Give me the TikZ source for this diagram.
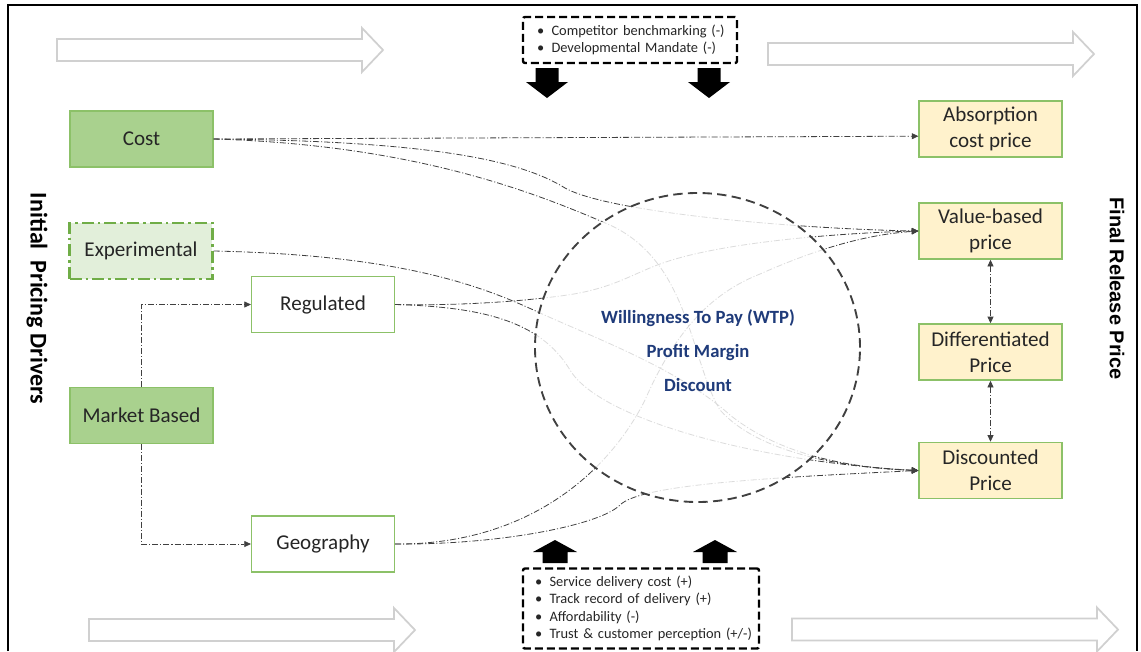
\documentclass[tikz,border=0pt]{standalone}
\usepackage{fontspec}
\setmainfont{Carlito}
\newfontfamily\arialfont{Liberation Sans}
\usetikzlibrary{arrows.meta,calc,shapes.geometric}

\definecolor{boxgreen}{HTML}{A9D18E}
\definecolor{boxedge}{HTML}{8CC168}
\definecolor{expfill}{HTML}{E2EFDA}
\definecolor{expedge}{HTML}{70AD47}
\definecolor{pricefill}{HTML}{FFF2CC}
\definecolor{linkgray}{HTML}{404040}
\definecolor{hollowgray}{HTML}{D0D0D0}
\definecolor{wtpblue}{HTML}{1F3B7A}
\definecolor{txt}{HTML}{262626}

\newcommand{\bulletline}[1]{\mbox{\textbullet\hspace{5.5pt}#1}}

\tikzset{
  pxbox/.style={minimum width=107pt, minimum height=42pt, inner sep=0pt,
    line width=1.1pt, text=txt, align=center,
    font=\fontsize{15.8}{19.5}\selectfont},
  solidbox/.style={pxbox, draw=boxedge, fill=boxgreen},
  plainbox/.style={pxbox, draw=boxedge, fill=white},
  pricebox/.style={pxbox, draw=boxedge, fill=pricefill},
  trialbox/.style={pxbox, draw=expedge, fill=expfill, line width=2pt,
    dash pattern=on 9pt off 3pt on 2pt off 3pt},
  link/.style={draw=linkgray, line width=0.6pt,
    dash pattern=on 4.5pt off 1.5pt on 0.8pt off 1.5pt},
  tip/.style={-{Triangle[length=5pt,width=4.5pt]}},
  bothtips/.style={{Triangle[length=5pt,width=4.5pt]}-{Triangle[length=5pt,width=4.5pt]}},
  notebox/.style={draw=black, line width=1.8pt, dash pattern=on 6pt off 3pt,
    rounded corners=1.5pt, inner ysep=0pt, text=txt, align=left,
    font=\fontsize{10.8}{13}\selectfont},
  sidelabel/.style={rotate=-90, text=black, inner sep=0pt},
  hollowarrow/.pic={
    \draw[hollowgray, line width=1.3pt, line join=miter]
      (0,-11) -- (305,-11) -- (305,-22) -- (326,0) -- (305,22) -- (305,11)
      -- (0,11) -- cycle;
  },
  blockdown/.pic={
    \fill[black] (-11.5,0) -- (11.5,0) -- (11.5,14) -- (21,14) -- (0,30)
      -- (-21,14) -- (-11.5,14) -- cycle;
  },
  blockup/.pic={
    \fill[black] (-12.5,0) -- (12.5,0) -- (12.5,-11) -- (22,-11) -- (0,-23)
      -- (-22,-11) -- (-12.5,-11) -- cycle;
  }
}

\begin{document}
\begin{tikzpicture}[x=0.75pt,y=-0.75pt]
\useasboundingbox (0,0) rectangle (1141,651);
\fill[white] (0,0) rectangle (1141,651);

% outer frame (open at the bottom edge of the page)
\draw[black, line width=1.5pt] (8,651) -- (8,5) -- (1137,5) -- (1137,651);

% hollow flow arrows
\pic at (57,50) {hollowarrow};
\pic at (768,54) {hollowarrow};
\pic at (89,630) {hollowarrow};
\pic at (792,629.5) {hollowarrow};

% side titles
\node[sidelabel, font=\bfseries\fontsize{18}{18}\selectfont] (initlbl) at (37,298.5) {Initial\ \ Pricing Drivers};
\node[sidelabel, font=\arialfont\bfseries\fontsize{15}{15}\selectfont] (finallbl) at (1117,288.5) {Final Release Price};

% pricing drivers
\node[solidbox] (cost) at (141.5,139) {Cost};
\node[trialbox] (exp) at (141,251) {Experimental};
\node[plainbox] (reg) at (323,304.5) {Regulated};
\node[solidbox] (mkt) at (141.5,415.5) {Market Based};
\node[plainbox] (geo) at (323,544) {Geography};

% release prices
\node[pricebox] (abs) at (990.5,129) {Absorption\\cost price};
\node[pricebox] (val) at (990.5,231) {Value-based\\price};
\node[pricebox] (diff) at (990.5,352) {Differentiated\\Price};
\node[pricebox] (disc) at (990.5,470.5) {Discounted\\Price};

% market based branches
\draw[link, tip] (mkt.north) |- (reg.west);
\draw[link, tip] (mkt.south) |- (geo.west);

% cost to absorption
\draw[link, tip] (cost.east) -- ($(abs.south west)!0.375!(abs.north west)$);

% curved links towards value-based price
\draw[link, tip] (cost.east) .. controls (430,141) and (520,160) .. (565,188)
  .. controls (610,213) and (800,229) .. (val.west);
\draw[link, tip] (reg.east) .. controls (470,306) and (530,300) .. (560,296)
  .. controls (610,290) and (630,275) .. (660,264)
  .. controls (720,242) and (840,233) .. (val.west);
\draw[link, tip] (geo.east) .. controls (530,545) and (610,470) .. (645,400)
  .. controls (680,320) and (720,290) .. (760,274)
  .. controls (810,252) and (860,235) .. (val.west);

% curved links towards discounted price
\draw[link, tip] (cost.east) .. controls (420,145) and (540,195) .. (610,225)
  .. controls (690,262) and (690,360) .. (720,410)
  .. controls (760,455) and (850,468) .. (disc.west);
\draw[link, tip] (exp.east) .. controls (400,255) and (480,285) .. (540,313)
  .. controls (600,340) and (680,370) .. (730,415)
  .. controls (780,455) and (850,468) .. (disc.west);
\draw[link, tip] (reg.east) .. controls (480,307) and (540,320) .. (570,370)
  .. controls (600,420) and (760,462) .. (disc.west);
\draw[link, tip] (geo.east) .. controls (500,545) and (600,525) .. (620,505)
  .. controls (640,485) and (760,478) .. (disc.west);

% links between release prices
\draw[link, bothtips] (val.south) -- (diff.north);
\draw[link, bothtips] (diff.south) -- (disc.north);

% pricing levers
\node[ellipse, draw=linkgray, fill=white, fill opacity=0.82, line width=1.4pt,
  dash pattern=on 7pt off 4pt, minimum width=243.75pt, minimum height=231.75pt,
  inner sep=0pt] (levers) at (697.5,347.5) {};
\node[text=wtpblue, align=center, font=\bfseries\fontsize{14}{25.5}\selectfont]
  (levertext) at (698,351) {Willingness To Pay (WTP)\\Profit Margin\\Discount};

% downward pressures
\node[notebox, inner xsep=10.5pt, text width=139.5pt, minimum height=34.5pt]
  (topnote) at (630,40)
  {\bulletline{Competitor benchmarking (-)}\\
   \bulletline{Developmental Mandate (-)}};
\pic at (547,68) {blockdown};
\pic at (709,68) {blockdown};

% upward pressures
\node[notebox, inner xsep=9pt, text width=159pt, minimum height=60pt]
  (botnote) at (641,608.5)
  {\bulletline{Service delivery cost (+)}\\
   \bulletline{Track record of delivery (+)}\\
   \bulletline{Affordability (-)}\\
   \bulletline{Trust \& customer perception (+/-)}};
\pic at (555,563) {blockup};
\pic at (715,563) {blockup};
\end{tikzpicture}
\end{document}
